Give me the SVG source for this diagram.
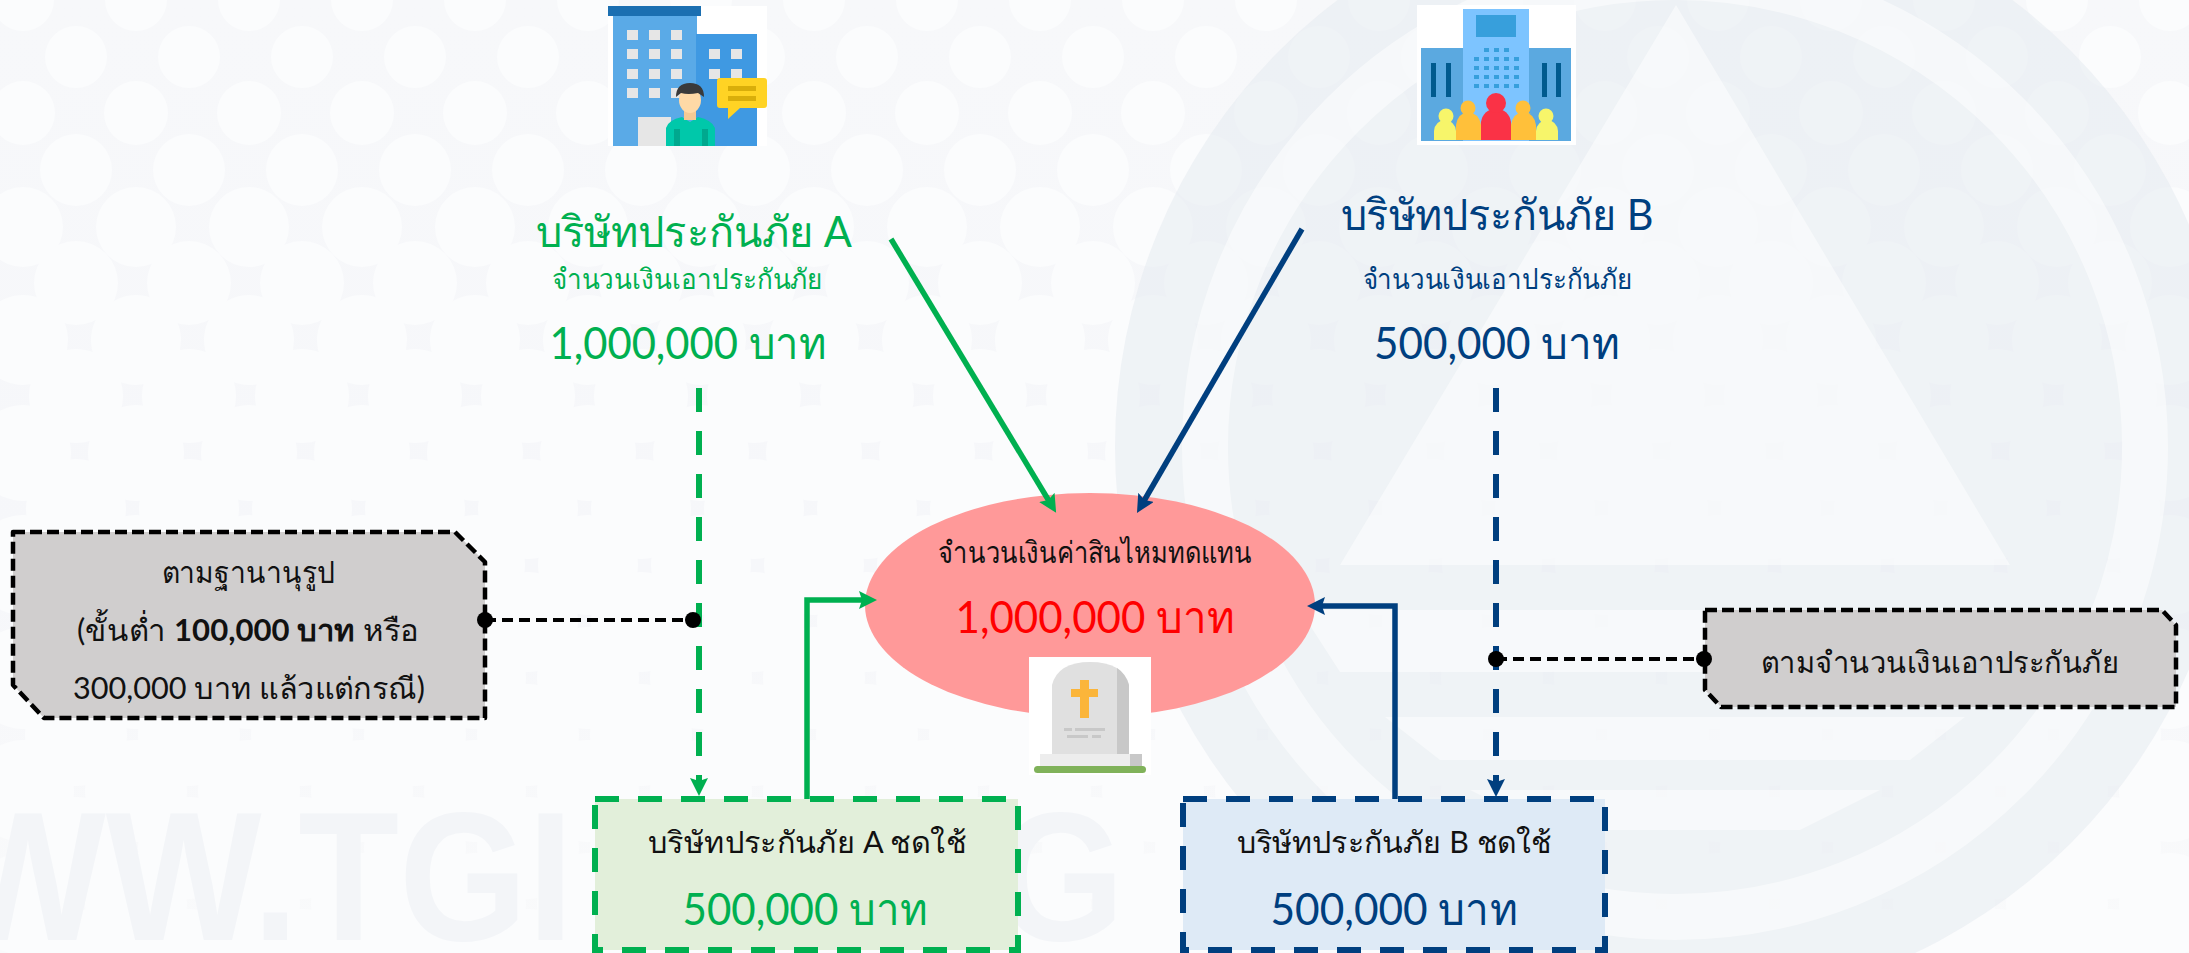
<svg xmlns="http://www.w3.org/2000/svg" width="2189" height="953" viewBox="0 0 2189 953">
<style>
text{font-family:"Lato","Noto Sans",sans-serif;text-anchor:middle;font-weight:400}
.bg path{fill:none;stroke:#fbfcfd;stroke-linecap:round;stroke-dasharray:0 113}
.bg .lg{stroke:none;stroke-dasharray:none;fill:#fff;opacity:.5}
.wm{fill:#f3f5f8;font-size:184px;font-weight:700;font-family:"Liberation Sans",sans-serif;text-anchor:start}
.g{fill:#00b050}.b{fill:#003f7f}.k{fill:#111}.r{fill:#f00}
.cd{stroke-width:6;stroke-dasharray:24 19}
.bk{fill:#d0cece;stroke:#000;stroke-width:4.5;stroke-dasharray:12 5;stroke-linejoin:round}
.lk{fill:none;stroke:#000;stroke-width:4;stroke-dasharray:11 6}
.win{fill:#e6e6e6}
</style>
<defs>
<marker id="ag" markerUnits="userSpaceOnUse" viewBox="0 0 18 18" markerWidth="18" markerHeight="18" refX="10" refY="9" orient="auto"><path d="M0 0L18 9L0 18L3 9z" fill="#00b050"/></marker>
<marker id="ab" markerUnits="userSpaceOnUse" viewBox="0 0 18 18" markerWidth="18" markerHeight="18" refX="10" refY="9" orient="auto"><path d="M0 0L18 9L0 18L3 9z" fill="#003f7f"/></marker>
<linearGradient id="fd" x1="0" y1="0" x2="0" y2="1"><stop offset="0" stop-color="#f7f8fa"/><stop offset=".6" stop-color="#f6f7fa"/><stop offset="1" stop-color="#f9fafb"/></linearGradient>
</defs>
<g id="background" class="bg">
<rect width="2189" height="953" fill="url(#fd)"/>
<path d="M23 0H2189" stroke-width="62"/>
<path d="M76 57H2189" stroke-width="62"/>
<path d="M23 113H2189" stroke-width="64"/>
<path d="M76 170H2189" stroke-width="72"/>
<path d="M23 227H2189" stroke-width="80"/>
<path d="M76 283H2189" stroke-width="84"/>
<path d="M23 340H2189" stroke-width="90"/>
<path d="M76 396H2189" stroke-width="94"/>
<path d="M23 453H2189" stroke-width="96"/>
<path d="M76 509H2189" stroke-width="100"/>
<path d="M23 565H2189" stroke-width="100"/>
<path d="M76 622H2189" stroke-width="100"/>
<path d="M23 678H2189" stroke-width="102"/>
<path d="M76 735H2189" stroke-width="102"/>
<path d="M23 791H2189" stroke-width="102"/>
<path d="M76 848H2189" stroke-width="102"/>
<path d="M23 904H2189" stroke-width="102"/>
<path d="M76 960H2189" stroke-width="102"/>
<circle cx="1675" cy="447" r="560" fill="#e4e9f0" opacity=".5"/>
<circle cx="1675" cy="447" r="470" fill="none" style="stroke:#fff;stroke-dasharray:none;stroke-linecap:butt" stroke-width="46" opacity=".5"/>
<path class="lg" d="M1676 5L2010 565H1340z"/>
<path class="lg" d="M1300 610H2050L2010 672H1340zM1385 717H1965L1910 760H1440zM1470 790H1880L1800 830H1550z"/>
<text class="wm" transform="translate(-50 940) scale(.897 1)">WW.TGI</text>
<text class="wm" transform="translate(996 940) scale(.897 1)">G</text>
</g>
<g id="building-a">
<rect x="608" y="6" width="159" height="140" fill="#fff"/>
<rect x="613" y="16" width="84" height="130" fill="#5aaae7"/>
<rect x="696" y="34" width="61" height="112" fill="#3f99e2"/>
<rect x="608" y="6" width="93" height="10" fill="#1b6fb1"/>
<path class="win" d="M627 30h11v10h-11zM649 30h11v10h-11zM671 30h11v10h-11zM627 49h11v10h-11zM649 49h11v10h-11zM671 49h11v10h-11zM627 69h11v10h-11zM649 69h11v10h-11zM671 69h11v10h-11zM627 88h11v10h-11zM649 88h11v10h-11zM671 88h11v10h-11zM709 49h11v10h-11zM731 49h11v10h-11zM709 69h11v10h-11zM731 69h11v10h-11zM638 117h33v29h-33z"/>
<path d="M666 146V128Q668 120 682 117L690 122L698 117Q712 120 715 128V146z" fill="#00c8aa"/>
<rect x="674" y="129" width="6" height="17" fill="#00a88e"/><rect x="702" y="129" width="6" height="17" fill="#00a88e"/>
<rect x="684" y="108" width="12" height="12" fill="#f5c993"/>
<ellipse cx="690" cy="100" rx="11" ry="13" fill="#ffd9a6"/>
<path d="M676 97Q676 83 690 83Q704 83 704 97L698 93Q688 95 681 93z" fill="#3a3a3a"/>
<path d="M720 78h44q3 0 3 3v24q0 3-3 3h-24l-12 11v-11h-8q-3 0-3-3v-24q0-3 3-3z" fill="#ffd324"/>
<path d="M728 86h28v5h-28zM728 96h28v5h-28z" fill="#d9ae0a"/>
</g>
<g id="building-b">
<rect x="1417" y="5" width="159" height="140" fill="#fff"/>
<rect x="1421" y="48" width="150" height="93" fill="#5ba9e0"/>
<rect x="1463" y="9" width="66" height="132" fill="#7dc4ff"/>
<rect x="1476" y="15" width="40" height="22" fill="#379fdc"/>
<path d="M1431 63h5v34h-5zM1446 63h5v34h-5zM1542 63h5v34h-5zM1556 63h5v34h-5z" fill="#005a8e"/>
<path d="M1484 48h5v4h-5zM1494 48h5v4h-5zM1504 48h5v4h-5zM1474 57h5v4h-5zM1484 57h5v4h-5zM1494 57h5v4h-5zM1504 57h5v4h-5zM1514 57h5v4h-5zM1474 66h5v4h-5zM1484 66h5v4h-5zM1494 66h5v4h-5zM1504 66h5v4h-5zM1514 66h5v4h-5zM1474 75h5v4h-5zM1484 75h5v4h-5zM1494 75h5v4h-5zM1504 75h5v4h-5zM1514 75h5v4h-5zM1474 84h5v4h-5zM1484 84h5v4h-5zM1494 84h5v4h-5zM1504 84h5v4h-5zM1514 84h5v4h-5z" fill="#379fdc"/>
<path d="M1434 140V131Q1435 121 1445 120Q1455 121 1456 131V140z" fill="#f7f56a"/><circle cx="1446" cy="116" r="7.5" fill="#f7f56a"/>
<path d="M1536 140V131Q1537 121 1547 120Q1557 121 1558 131V140z" fill="#f7f56a"/><circle cx="1546" cy="116" r="7.5" fill="#f7f56a"/>
<path d="M1456 140V125Q1458 113 1468 112Q1479 113 1481 125V140z" fill="#ffc03a"/><circle cx="1468" cy="108" r="7.5" fill="#ffc03a"/>
<path d="M1511 140V125Q1513 113 1523 112Q1534 113 1536 125V140z" fill="#ffc03a"/><circle cx="1523" cy="108" r="7.5" fill="#ffc03a"/>
<path d="M1481 140V122Q1483 110 1496 108Q1509 110 1511 122V140z" fill="#fa3246"/><circle cx="1496" cy="103" r="10" fill="#fa3246"/>
</g>
<g id="label-a">
<text class="g" x="694" y="247" font-size="43" textLength="316" lengthAdjust="spacingAndGlyphs">บริษัทประกันภัย A</text>
<text class="g" x="687" y="289" font-size="28" textLength="270" lengthAdjust="spacingAndGlyphs">จำนวนเงินเอาประกันภัย</text>
<text class="g" x="688" y="359" font-size="44" textLength="277" lengthAdjust="spacingAndGlyphs">1,000,000 บาท</text>
</g>
<g id="label-b">
<text class="b" x="1497" y="230" font-size="43" textLength="313" lengthAdjust="spacingAndGlyphs">บริษัทประกันภัย B</text>
<text class="b" x="1497" y="289" font-size="28" textLength="269" lengthAdjust="spacingAndGlyphs">จำนวนเงินเอาประกันภัย</text>
<text class="b" x="1497" y="359" font-size="44" textLength="246" lengthAdjust="spacingAndGlyphs">500,000 บาท</text>
</g>
<g id="claim">
<ellipse cx="1090" cy="605" rx="225" ry="112" fill="#ff9999"/>
<text class="k" x="1095" y="563" font-size="30" textLength="314" lengthAdjust="spacingAndGlyphs">จำนวนเงินค่าสินไหมทดแทน</text>
<text class="r" x="1095" y="633" font-size="44" textLength="279" lengthAdjust="spacingAndGlyphs">1,000,000 บาท</text>
<rect x="1029" y="657" width="122" height="118" fill="#fff"/>
<path d="M1052 754V685Q1058 662 1090 662Q1123 662 1129 685V754z" fill="#e0e0e0"/>
<path d="M1117 754V668Q1126 674 1129 685V754z" fill="#c8c8c8"/>
<path d="M1080 680h9v9h9v8h-9v21h-9v-21h-9v-8h9z" fill="#fbb53a"/>
<path d="M1064 728h8v3h-8zM1075 728h30v3h-30zM1067 735h21v3h-21zM1092 735h9v3h-9z" fill="#c8c8c8"/>
<rect x="1040" y="754" width="102" height="12" fill="#ededed"/>
<rect x="1130" y="754" width="12" height="12" fill="#c8c8c8"/>
<rect x="1034" y="766" width="112" height="7" rx="3.5" fill="#80b25a"/>
</g>
<g id="payer-a">
<rect class="cd" x="595" y="799" width="423" height="151" fill="#e2efda" stroke="#00b050"/>
<text class="k" x="807" y="853" font-size="30" textLength="318" lengthAdjust="spacingAndGlyphs">บริษัทประกันภัย A ชดใช้</text>
<text class="g" x="805" y="925" font-size="44" textLength="245" lengthAdjust="spacingAndGlyphs">500,000 บาท</text>
</g>
<g id="payer-b">
<rect class="cd" x="1183" y="799" width="422" height="151" fill="#deeaf6" stroke="#003f7f"/>
<text class="k" x="1394" y="853" font-size="30" textLength="315" lengthAdjust="spacingAndGlyphs">บริษัทประกันภัย B ชดใช้</text>
<text class="b" x="1394" y="925" font-size="44" textLength="247" lengthAdjust="spacingAndGlyphs">500,000 บาท</text>
</g>
<g id="note-left">
<path class="bk" d="M13 532H455L485 562V718H44L13 685z"/>
<text class="k" x="248" y="583" font-size="30" textLength="173" lengthAdjust="spacingAndGlyphs">ตามฐานานุรูป</text>
<text class="k" x="248" y="641" font-size="30" textLength="342" lengthAdjust="spacingAndGlyphs">(ขั้นต่ำ <tspan font-weight="700">100,000 บาท</tspan> หรือ</text>
<text class="k" x="249" y="699" font-size="30" textLength="352" lengthAdjust="spacingAndGlyphs">300,000 บาท แล้วแต่กรณี)</text>
</g>
<g id="note-right">
<path class="bk" d="M1705 610H2162L2176 625V707H1721L1705 690z"/>
<text class="k" x="1940" y="673" font-size="30" textLength="358" lengthAdjust="spacingAndGlyphs">ตามจำนวนเงินเอาประกันภัย</text>
</g>
<g id="connectors">
<path d="M891 239L1052 506" stroke="#00b050" stroke-width="5.5" fill="none" marker-end="url(#ag)"/>
<path d="M1302 229L1141 506" stroke="#003f7f" stroke-width="5.5" fill="none" marker-end="url(#ab)"/>
<path d="M699 388V788" stroke="#00b050" stroke-width="6" stroke-dasharray="24 19" fill="none" marker-end="url(#ag)"/>
<path d="M1496 388V789" stroke="#003f7f" stroke-width="6" stroke-dasharray="24 19" fill="none" marker-end="url(#ab)"/>
<path d="M807 799V600H869" stroke="#00b050" stroke-width="5.5" fill="none" marker-end="url(#ag)"/>
<path d="M1395 799V606H1315" stroke="#003f7f" stroke-width="5.5" fill="none" marker-end="url(#ab)"/>
<path class="lk" d="M485 620H693"/>
<path class="lk" d="M1496 659H1704"/>
<circle cx="485" cy="620" r="8"/><circle cx="693" cy="620" r="8"/>
<circle cx="1496" cy="659" r="8"/><circle cx="1704" cy="659" r="8"/>
</g>
</svg>
